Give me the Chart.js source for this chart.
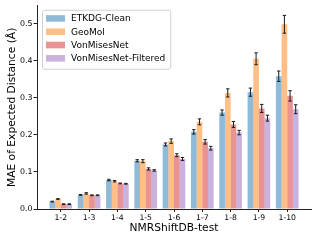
<!DOCTYPE html>
<html>
<head>
<meta charset="utf-8">
<script src="https://cdn.jsdelivr.net/npm/chart.js@4.4.0/dist/chart.umd.min.js"></script>
<style>
  html, body { margin: 0; padding: 0; background: #fff; }
  #wrap { width: 317px; height: 241px; }
</style>
</head>
<body>
<div id="wrap"><canvas id="maeChart" width="317" height="241"></canvas></div>
<script>
const categories = ['1-2', '1-3', '1-4', '1-5', '1-6', '1-7', '1-8', '1-9', '1-10'];
const seriesNames = ['ETKDG-Clean', 'GeoMol', 'VonMisesNet', 'VonMisesNet-Filtered'];

const etkdgClean = [0.020, 0.038, 0.078, 0.130, 0.174, 0.208, 0.260, 0.315, 0.358];
const geoMol = [0.027, 0.042, 0.075, 0.129, 0.183, 0.235, 0.313, 0.405, 0.498];
const vonMises = [0.013, 0.037, 0.069, 0.108, 0.145, 0.181, 0.228, 0.271, 0.305];
const vonMisesFiltered = [0.013, 0.037, 0.068, 0.104, 0.135, 0.164, 0.206, 0.245, 0.269];

const etkdgCleanErr = [0.001, 0.001, 0.002, 0.003, 0.004, 0.006, 0.007, 0.011, 0.014];
const geoMolErr = [0.001, 0.002, 0.002, 0.004, 0.006, 0.008, 0.011, 0.016, 0.024];
const vonMisesErr = [0.001, 0.001, 0.001, 0.003, 0.004, 0.006, 0.008, 0.011, 0.014];
const vonMisesFilteredErr = [0.001, 0.001, 0.001, 0.002, 0.004, 0.005, 0.006, 0.008, 0.012];

const yTicks = [0.0, 0.1, 0.2, 0.3, 0.4, 0.5];

const colors = [
    'rgba(31, 119, 180, 0.5)',
    'rgba(255, 127, 14, 0.5)',
    'rgba(214, 39, 40, 0.5)',
    'rgba(148, 103, 189, 0.5)'
];

const values = [etkdgClean, geoMol, vonMises, vonMisesFiltered];
const errors = [etkdgCleanErr, geoMolErr, vonMisesErr, vonMisesFilteredErr];

Chart.defaults.font.family = "'DejaVu Sans', sans-serif";
Chart.defaults.color = '#000';

const datasets = seriesNames.map((name, i) => ({
    label: name,
    backgroundColor: colors[i],
    borderWidth: 0,
    categoryPercentage: 0.8,
    barPercentage: 1.0,
    errors: errors[i],
    data: values[i].map((v, j) => ({ x: j, y: v }))
}));

// error bars with small caps, drawn on top of the bars
const errorBars = {
    id: 'errorBars',
    afterDatasetsDraw(chart) {
        const ctx = chart.ctx;
        const yScale = chart.scales.y;
        ctx.save();
        ctx.strokeStyle = '#1a1a1a';
        ctx.lineWidth = 1;
        chart.data.datasets.forEach((ds, i) => {
            const meta = chart.getDatasetMeta(i);
            meta.data.forEach((bar, j) => {
                const v = ds.data[j].y;
                const e = ds.errors[j];
                const top = yScale.getPixelForValue(v + e);
                const bot = yScale.getPixelForValue(v - e);
                const x = bar.x;
                ctx.beginPath();
                ctx.moveTo(x, top);
                ctx.lineTo(x, bot);
                ctx.moveTo(x - 1.7, top);
                ctx.lineTo(x + 1.7, top);
                ctx.moveTo(x - 1.7, bot);
                ctx.lineTo(x + 1.7, bot);
                ctx.stroke();
            });
        });
        ctx.restore();
    }
};

// matplotlib style legend box in the upper left of the plot
const boxLegend = {
    id: 'boxLegend',
    afterDraw(chart) {
        const ctx = chart.ctx;
        const area = chart.chartArea;
        const left = area.left + 5;
        const top = area.top + 4;
        ctx.save();
        ctx.font = "9px 'DejaVu Sans', sans-serif";
        let maxW = 0;
        chart.data.datasets.forEach(ds => {
            maxW = Math.max(maxW, ctx.measureText(ds.label).width);
        });
        const w = 29 + maxW + 5;
        const h = 59;
        ctx.beginPath();
        ctx.roundRect(left + 0.5, top + 0.5, w, h, 2);
        ctx.fillStyle = 'rgba(255, 255, 255, 0.8)';
        ctx.fill();
        ctx.strokeStyle = '#d0d0d0';
        ctx.lineWidth = 1;
        ctx.stroke();
        chart.data.datasets.forEach((ds, i) => {
            const cy = top + 8.7 + i * 13.3;
            ctx.fillStyle = ds.backgroundColor;
            ctx.fillRect(left + 4, cy - 3.3, 19, 6.6);
            ctx.fillStyle = '#000';
            ctx.textBaseline = 'middle';
            ctx.textAlign = 'left';
            ctx.fillText(ds.label, left + 29, cy + 0.5);
        });
        ctx.restore();
    }
};

const config = {
    type: 'bar',
    data: { datasets: datasets },
    options: {
        responsive: false,
        animation: false,
        devicePixelRatio: 1,
        layout: { padding: { top: 5, right: 6, left: 0, bottom: 0 } },
        plugins: {
            legend: { display: false },
            tooltip: { enabled: false }
        },
        scales: {
            x: {
                type: 'linear',
                min: -0.84,
                max: 8.84,
                offset: false,
                afterBuildTicks: s => { s.ticks = categories.map((c, i) => ({ value: i })); },
                afterFit: s => { s.height = 32; },
                ticks: {
                    autoSkip: false,
                    maxRotation: 0,
                    padding: 1.5,
                    font: { size: 7.7 },
                    callback: v => categories[v]
                },
                grid: { drawOnChartArea: false, offset: false, tickLength: 3, tickColor: '#222' },
                border: { color: '#222', width: 1 },
                title: {
                    display: true,
                    text: 'NMRShiftDB-test',
                    font: { size: 10.7 },
                    padding: { top: 0, bottom: 6 }
                }
            },
            y: {
                min: 0,
                max: 0.548,
                afterBuildTicks: s => { s.ticks = yTicks.map(v => ({ value: v })); },
                afterFit: s => { s.width = 37; },
                ticks: {
                    padding: 1,
                    font: { size: 7.9 },
                    callback: v => v.toFixed(1)
                },
                grid: { drawOnChartArea: false, tickLength: 3.5, tickColor: '#222' },
                border: { color: '#222', width: 1 },
                title: {
                    display: true,
                    text: 'MAE of Expected Distance (Å)',
                    font: { size: 10.7 },
                    padding: { top: 5.5, bottom: 0 }
                }
            }
        }
    },
    plugins: [errorBars, boxLegend]
};

const maeChart = new Chart(
    document.getElementById('maeChart'),
    config
);
</script>
</body>
</html>
